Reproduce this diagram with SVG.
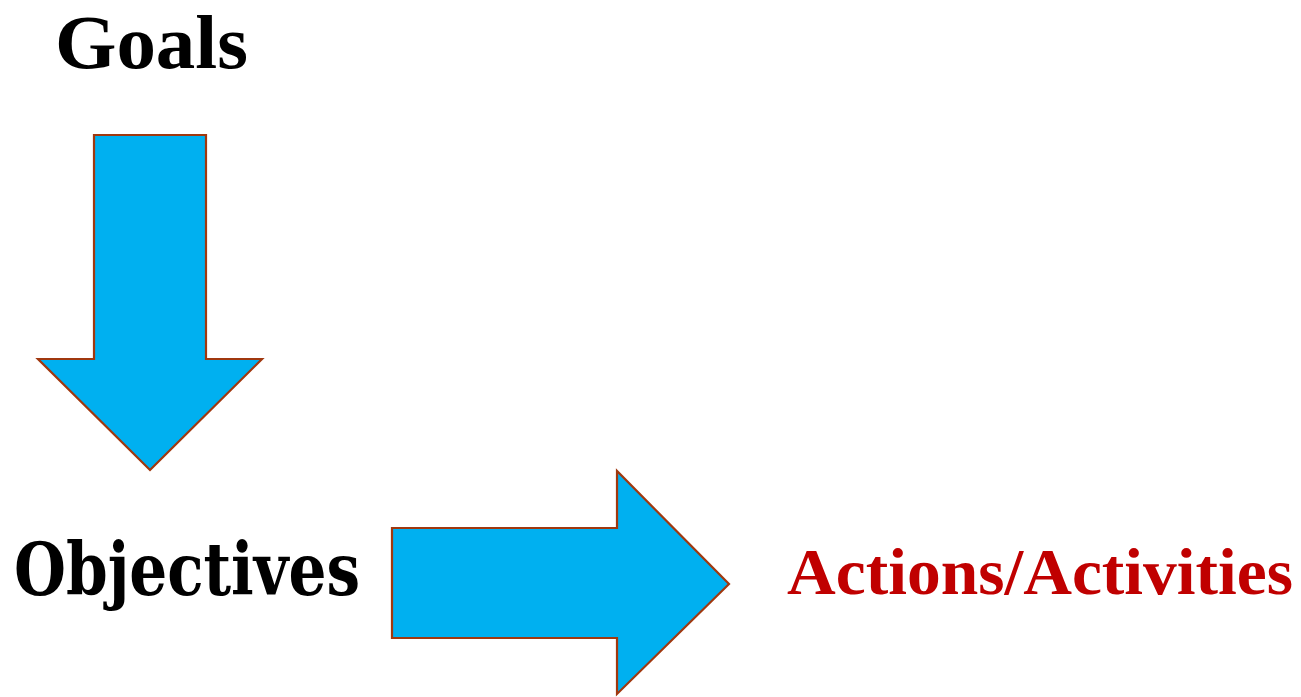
<svg xmlns="http://www.w3.org/2000/svg" width="1301" height="697" viewBox="0 0 1301 697">
<style>
.arrow{fill:#00B0F0;stroke:#A0380F;stroke-width:2.2;stroke-linejoin:miter}
.lbl{font-family:"Liberation Serif","DejaVu Serif",serif;font-weight:bold}
.lbl2{font-family:"DejaVu Serif","Liberation Serif",serif;font-weight:bold}
</style>
<rect width="1301" height="697" fill="#fff"/>
<g id="goals"><text class="lbl" x="55" y="68" font-size="76" textLength="193" lengthAdjust="spacingAndGlyphs" fill="#000">Goals</text></g>
<g id="objectives"><text class="lbl2" x="14" y="595" font-size="72" textLength="346" lengthAdjust="spacingAndGlyphs" fill="#000">Objectives</text></g>
<g id="actions"><text class="lbl" x="787" y="594" font-size="65" textLength="506" lengthAdjust="spacingAndGlyphs" fill="#C00000">Actions/Activities</text></g>
<g id="connectors">
<polygon class="arrow" points="94,135 206,135 206,359 262,359 150,470 38,359 94,359"/>
<polygon class="arrow" points="392,528 617,528 617,471 729,584 617,694 617,638 392,638"/>
</g>
</svg>
